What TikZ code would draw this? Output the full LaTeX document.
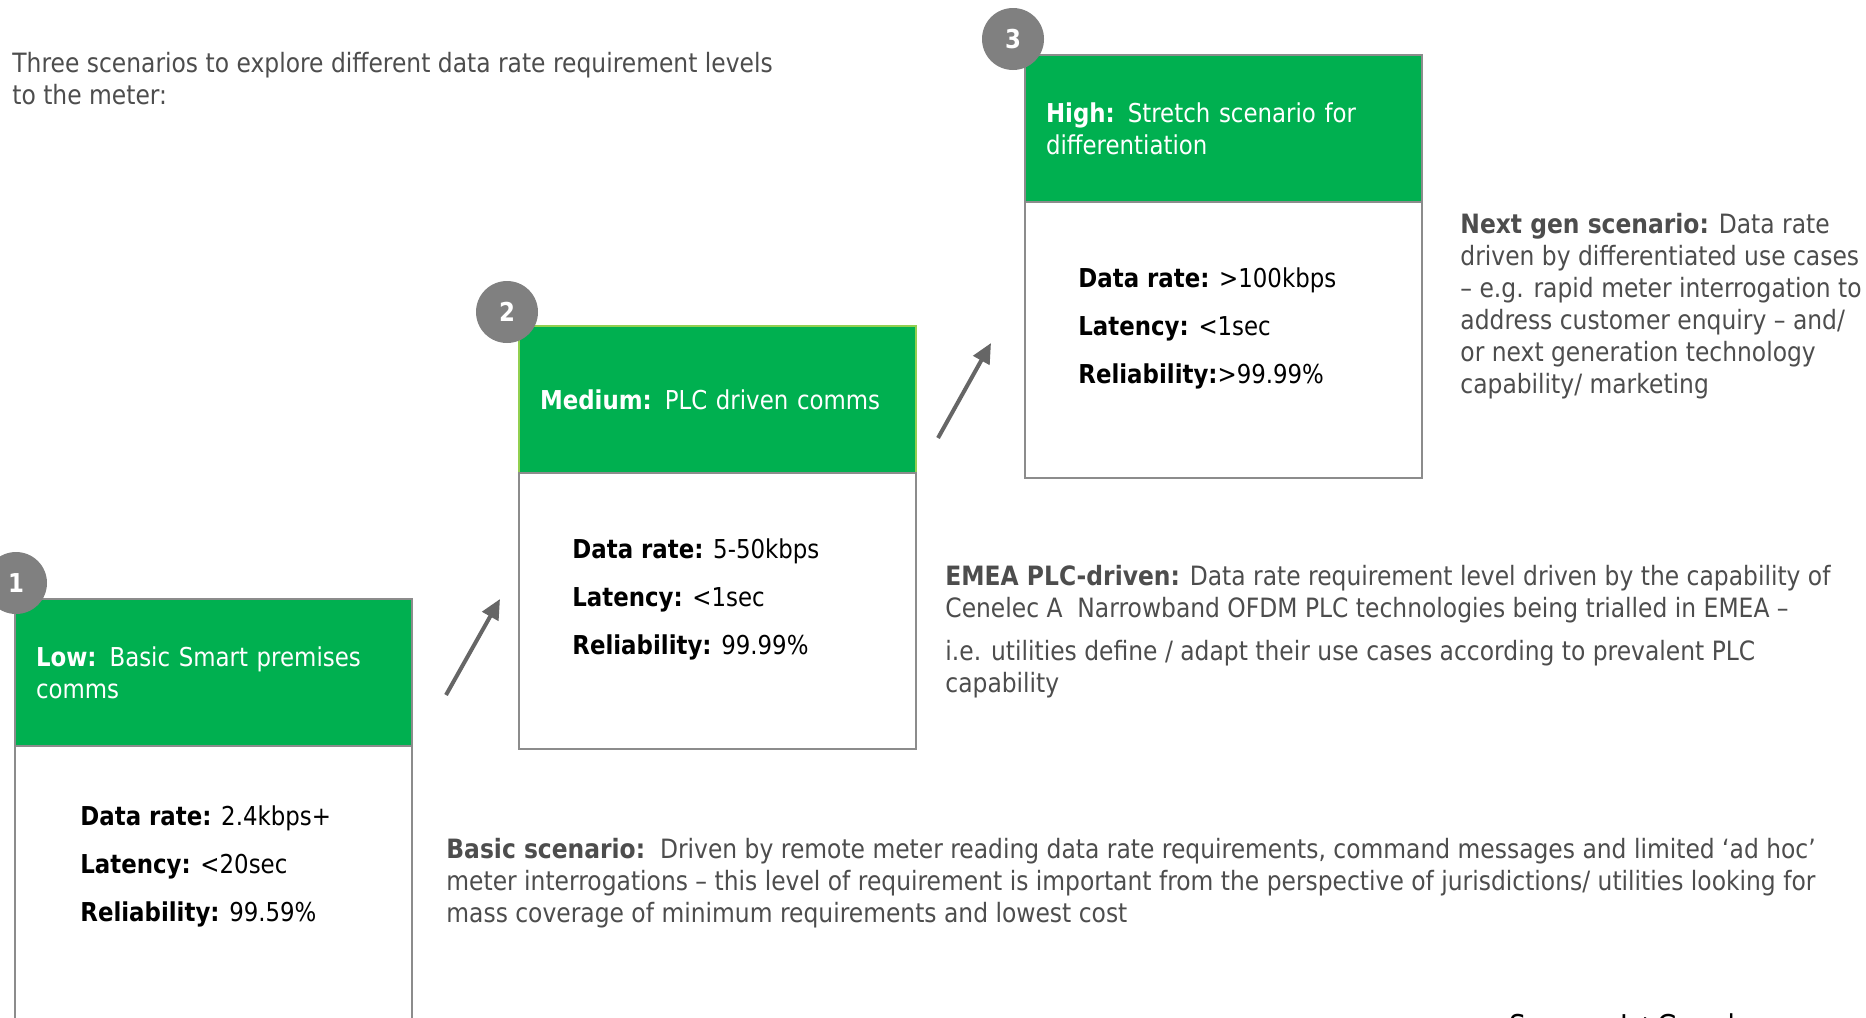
\documentclass[tikz,border=0pt]{standalone}
\usepackage{fontspec}
\setmainfont[FakeStretch=0.88]{DejaVu Sans}
\usetikzlibrary{arrows.meta,positioning}

\definecolor{scengreen}{RGB}{0,176,80}
\definecolor{limeedge}{RGB}{146,208,80}
\definecolor{edgegray}{RGB}{140,140,140}
\definecolor{badgegray}{RGB}{128,128,128}
\definecolor{notegray}{RGB}{77,77,77}
\definecolor{arrowgray}{RGB}{102,102,102}

\begin{document}
\begin{tikzpicture}[x=0.5pt, y=-0.5pt]
    % --- Styles ---
    % (multi-line text nodes sit on the baseline of their last line)
    \tikzstyle{header}=[draw=edgegray, fill=scengreen, line width=1pt, outer sep=0pt, anchor=north west, minimum width=198.5pt, minimum height=73.5pt, text width=177.5pt, inner xsep=10.5pt, align=left, text=white, font=\fontsize{13}{16}\selectfont]
    \tikzstyle{body}=[draw=edgegray, fill=white, line width=1pt, outer sep=0pt, minimum width=198.5pt, minimum height=138pt]
    \tikzstyle{badge}=[circle, fill=badgegray, minimum size=31pt, inner sep=0pt, text=white, font=\fontsize{13}{13}\selectfont\bfseries]
    \tikzstyle{metrics}=[anchor=base west, inner sep=0pt, align=left, font=\fontsize{13}{24}\selectfont]
    \tikzstyle{note}=[anchor=base west, inner sep=0pt, align=left, text=notegray, font=\fontsize{13.3}{16}\selectfont]
    \tikzstyle{step_arrow}=[-{Triangle[length=10pt,width=9pt]}, line width=2pt, draw=arrowgray]

    \path[use as bounding box, fill=white] (0,0) rectangle (1866,1017);
    \clip (0,0) rectangle (1866,1017);

    % --- 1. Intro line ---
    \node[note] (intro) at (12,104) {Three scenarios to explore different data rate requirement levels\\to the meter:};

    % --- 2. Scenario boxes (header + body) ---

    % Low
    \node[header] (low) at (15,599) {\textbf{Low:} Basic Smart premises\\comms};
    \node[body, below=0pt of low] (low_body) {};
    \node[metrics] (low_data) at (80,921) {\textbf{Data rate:} 2.4kbps+\\\textbf{Latency:} <20sec\\\textbf{Reliability:} 99.59\%};

    % Medium
    \node[header, draw=limeedge] (medium) at (519,326) {\textbf{Medium:} PLC driven comms};
    \node[body, below=0pt of medium] (medium_body) {};
    \node[metrics] (medium_data) at (572,654) {\textbf{Data rate:} 5-50kbps\\\textbf{Latency:} <1sec\\\textbf{Reliability:} 99.99\%};

    % High
    \node[header] (high) at (1025,55) {\textbf{High:} Stretch scenario for\\differentiation};
    \node[body, below=0pt of high] (high_body) {};
    \node[metrics] (high_data) at (1078,383) {\textbf{Data rate:} >100kbps\\\textbf{Latency:} <1sec\\\textbf{Reliability:}>99.99\%};

    % --- 3. Number badges ---
    \node[badge] (badge1) at (16,583) {1};
    \node[badge] (badge2) at (507,312) {2};
    \node[badge] (badge3) at (1013,39) {3};

    % --- 4. Step arrows ---
    \coordinate (rise1_tail) at (446,695);
    \coordinate (rise1_tip) at (500,599);
    \coordinate (rise2_tail) at (938,438);
    \coordinate (rise2_tip) at (991,343);
    \draw[step_arrow] (rise1_tail) -- (rise1_tip);
    \draw[step_arrow] (rise2_tail) -- (rise2_tip);

    % --- 5. Scenario notes ---
    \node[note] (next_gen) at (1460,393) {\textbf{Next gen scenario:} Data rate\\driven by differentiated use cases\\-- e.g. rapid meter interrogation to\\address customer enquiry -- and/\\or next generation technology\\capability/ marketing};
    \node[note] (emea) at (945,692) {\textbf{EMEA PLC-driven:} Data rate requirement level driven by the capability of\\Cenelec A\ \ Narrowband OFDM PLC technologies being trialled in EMEA --\\[5.5pt]i.e. utilities define / adapt their use cases according to prevalent PLC\\capability};
    \node[note] (basic) at (446,922) {\textbf{Basic scenario:}\ \ Driven by remote meter reading data rate requirements, command messages and limited `ad hoc'\\meter interrogations -- this level of requirement is important from the perspective of jurisdictions/ utilities looking for\\mass coverage of minimum requirements and lowest cost};

    \node[anchor=base west, inner sep=0pt, font=\fontsize{15}{18}\selectfont] (source) at (1509,1036) {Source: L+G and};
\end{tikzpicture}
\end{document}
